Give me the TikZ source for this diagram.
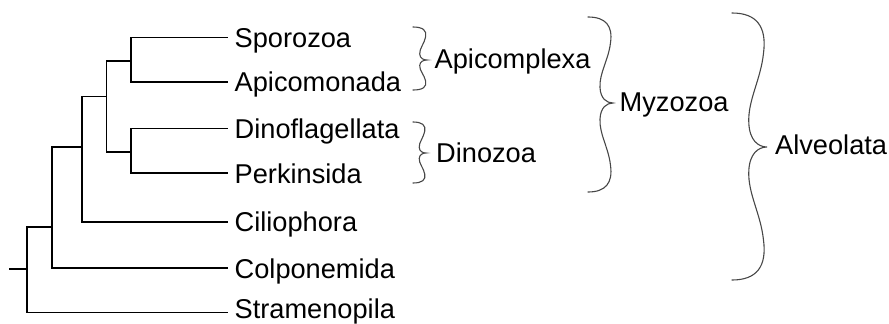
\documentclass[tikz,border=0pt]{standalone}
\usepackage{fontspec}
\setmainfont{Liberation Sans}
\begin{document}
\begin{tikzpicture}[x=1pt,y=-1pt,
  branch/.style={line width=1.8pt,black,line cap=rect},
  bracepath/.style={line width=1.1pt,black!72,line cap=round},
  label/.style={inner sep=0pt,anchor=base west,font=\fontsize{27.2}{31}\selectfont}]
\useasboundingbox (0,0) rectangle (889,324);
% brace macro: x0, x1, ytop, ytip, ybottom
\newcommand\mybrc[5]{%
  \draw[bracepath] (#1,#3)
    .. controls ({#1+0.7*(#2-#1)},#3) and ({#1+1.0*(#2-#1)},{#3+0.1*(#4-#3)}) .. ({#1+0.9*(#2-#1)},{#3+0.3*(#4-#3)})
    .. controls ({#1+0.82*(#2-#1)},{#3+0.5*(#4-#3)}) and ({#1+0.45*(#2-#1)},{#3+0.65*(#4-#3)}) .. ({#1+0.48*(#2-#1)},{#3+0.82*(#4-#3)})
    .. controls ({#1+0.5*(#2-#1)},{#3+0.95*(#4-#3)}) and ({#1+0.75*(#2-#1)},#4) .. (#2,#4)
    .. controls ({#1+0.75*(#2-#1)},#4) and ({#1+0.5*(#2-#1)},{#4+0.05*(#5-#4)}) .. ({#1+0.48*(#2-#1)},{#4+0.18*(#5-#4)})
    .. controls ({#1+0.45*(#2-#1)},{#4+0.35*(#5-#4)}) and ({#1+0.82*(#2-#1)},{#4+0.5*(#5-#4)}) .. ({#1+0.9*(#2-#1)},{#4+0.7*(#5-#4)})
    .. controls ({#1+1.0*(#2-#1)},{#4+0.9*(#5-#4)}) and ({#1+0.7*(#2-#1)},#5) .. (#1,#5);}
% leaf tips
\coordinate (tspo) at (227,37.5);
\coordinate (tapi) at (227,82);
\coordinate (tdin) at (227,128.5);
\coordinate (tper) at (227,173.3);
\coordinate (tcil) at (227,221.7);
\coordinate (tcol) at (227,268.3);
\coordinate (tstr) at (227,312.5);
% internal nodes
\coordinate (n1) at (131,60.7);
\coordinate (n3) at (131,152);
\coordinate (n2) at (106.5,96.5);
\coordinate (n4) at (82,147);
\coordinate (n5) at (52,227.3);
\coordinate (root) at (27.3,269.3);
\coordinate (rstub) at (10,269.3);
% labels
\node[label] (lspo) at (234.5,47.4) {Sporozoa};
\node[label] (lapi) at (234.5,91.9) {Apicomonada};
\node[label] (ldin) at (234.5,138.4) {Dinoflagellata};
\node[label] (lper) at (234.5,183.2) {Perkinsida};
\node[label] (lcil) at (234.5,231.6) {Ciliophora};
\node[label] (lcol) at (234.5,278.2) {Colponemida};
\node[label] (lstr) at (234.5,318) {Stramenopila};
\node[label] (lapx) at (434.5,68.8) {Apicomplexa};
\node[label] (ldnz) at (436,162) {Dinozoa};
\node[label] (lmyz) at (619.5,111) {Myzozoa};
\node[label] (lalv) at (775,154.5) {Alveolata};
% tree
\draw[branch] (n1) |- (tspo);
\draw[branch] (n1) |- (tapi);
\draw[branch] (n3) |- (tdin);
\draw[branch] (n3) |- (tper);
\draw[branch] (n2) |- (n1);
\draw[branch] (n2) |- (n3);
\draw[branch] (n4) |- (n2);
\draw[branch] (n4) |- (tcil);
\draw[branch] (n5) |- (n4);
\draw[branch] (n5) |- (tcol);
\draw[branch] (root) |- (n5);
\draw[branch] (root) |- (tstr);
\draw[branch] (rstub) -- (root);
% braces
\mybrc{413}{427}{27}{60}{90}
\mybrc{413}{426}{122}{153}{183}
\mybrc{588}{613}{17}{103}{192}
\mybrc{732}{767}{13}{147}{280}
\end{tikzpicture}
\end{document}
